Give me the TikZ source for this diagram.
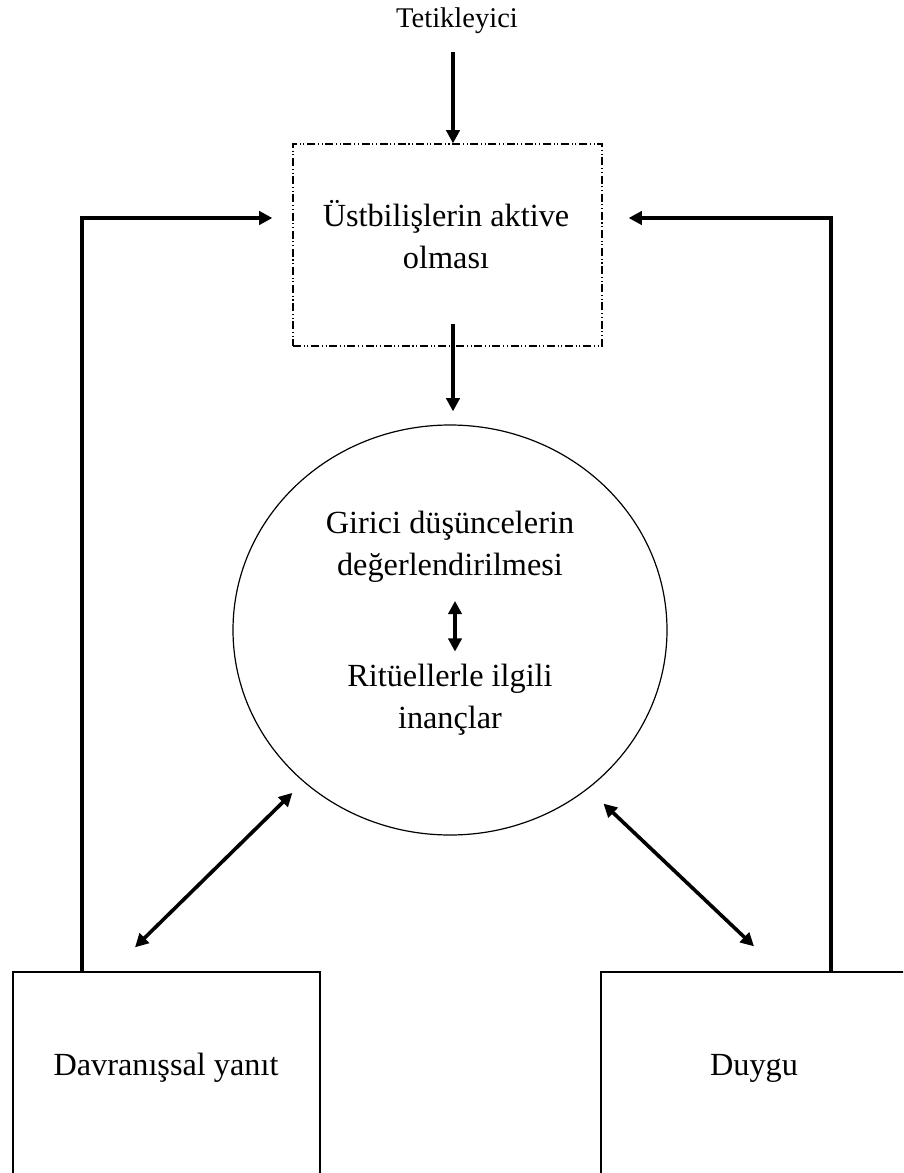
\documentclass[tikz,border=0pt]{standalone}
\usepackage{fontspec}
\setmainfont{Liberation Serif}
\usetikzlibrary{arrows.meta,shapes.geometric,calc}
\begin{document}
\begin{tikzpicture}[x=0.75pt,y=-0.75pt,
  txt/.style={font=\fontsize{24.2}{30.8}\selectfont,align=center,inner sep=0pt},
  smalltxt/.style={font=\fontsize{21.4}{25}\selectfont,inner sep=0pt},
  thk/.style={line width=3.2pt,-{Triangle[length=10pt,width=10pt]}},
  fb/.style={line width=3.2pt,line join=miter,-{Triangle[length=10pt,width=10pt]}},
  dbl/.style={line width=2.7pt,{Triangle[length=10pt,width=10pt]}-{Triangle[length=10pt,width=10pt]}},
  dashbox/.style={draw,rectangle,line width=0.9pt,inner sep=0pt,
    dash pattern=on 6pt off 2pt on 0.8pt off 2pt on 0.8pt off 2pt},
  plainbox/.style={draw,rectangle,line width=1pt,inner sep=0pt},
  ellbox/.style={draw,ellipse,line width=0.9pt,inner sep=0pt}]
\clip (0,0) rectangle (903,1173);
\fill[white] (0,0) rectangle (903,1173);

% nodes
\node[smalltxt,anchor=base] (tetik) at (457,28) {Tetikleyici};
\node[dashbox,minimum width=231.75pt,minimum height=151.5pt] (box) at (447.5,245) {};
\node[txt,anchor=base] (ust) at (446,268) {Üstbilişlerin aktive\\olması};
\node[ellbox,minimum width=325.5pt,minimum height=307.5pt] (ell) at (450,630) {};
\node[txt,anchor=base] (girici) at (450,575) {Girici düşüncelerin\\değerlendirilmesi};
\node[txt,anchor=base] (rituel) at (450,728) {Ritüellerle ilgili\\inançlar};
\node[plainbox,minimum width=230.25pt,minimum height=152.25pt] (L) at (166.5,1073.5) {};
\node[txt,anchor=base] (Ltext) at (166,1075) {Davranışsal yanıt};
\node[plainbox,minimum width=228pt,minimum height=152.25pt] (R) at (753,1073.5) {};
\node[txt,anchor=base] (Rtext) at (754,1075) {Duygu};

% helper coordinates
\coordinate (ax) at (453,0);
\coordinate (ix) at (455,0);
\coordinate (lc) at (82,218);
\coordinate (rc) at (831,218);

% connectors
\draw[thk,shorten <=13pt] (tetik.south -| ax) -- (box.north -| ax);
\draw[thk,shorten >=9.75pt] ($(box.south -| ax)+(0,-23)$) -- (ell.north -| ax);
\draw[dbl,shorten <=14pt,shorten >=9.5pt] (girici.south -| ix) -- (rituel.north -| ix);
\draw[fb,shorten >=15pt] (L.north -| lc) -- (lc) -- (box.west |- lc);
\draw[fb,shorten >=19.5pt] (R.north -| rc) -- (rc) -- (box.east |- rc);
\draw[dbl] ([shift={(-31.5,-24)}]L.north) -- ([shift={(-11,11)}]ell.226);
\draw[dbl] ([shift={(1,-25)}]R.north) -- ([shift={(12.5,17)}]ell.312);
\end{tikzpicture}
\end{document}
